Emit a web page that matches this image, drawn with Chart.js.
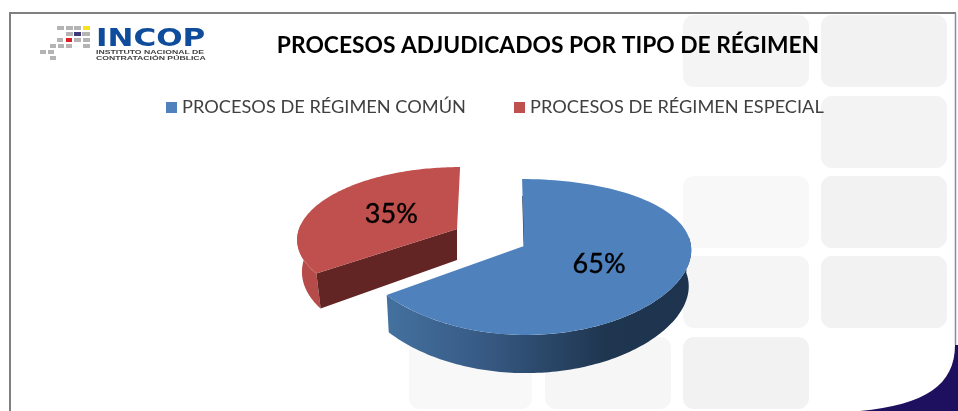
<!DOCTYPE html>
<html><head><meta charset="utf-8">
<style>html,body{margin:0;padding:0;background:#fff}canvas{display:block}</style>
<script src="https://cdn.jsdelivr.net/npm/chart.js@4"></script>
</head><body><div style="width:958px;height:411px"><canvas id="c" width="958" height="411"></canvas></div>
<script>
const categories = ["PROCESOS DE RÉGIMEN COMÚN", "PROCESOS DE RÉGIMEN ESPECIAL"];
const shareValues = [65, 35];
const chartTitle = "PROCESOS ADJUDICADOS POR TIPO DE RÉGIMEN";
const sliceColors = ["#4f81bd", "#c0504d"];

// projection of each slice's disc onto the page (perspective pie)
const views = [
  {cx:524, cy:246, R:167, a:76.4, b:.141, bx:.042, s:-.012, d0:36, d1:.06, sb:.985, label:.51},
  {cx:457, cy:229, R:158, a:70, b:.13, bx:.13, s:.022, d0:31, d1:.22, sb:.97, label:.47}
];
function project(v, ang, f, low){
  const u=Math.cos(ang)*f, w=Math.sin(ang)*f;
  let x=v.R*(u-v.s*w)/(1-v.bx*w), y=v.a*w/(1-v.b*w);
  if(low){x*=v.sb; y+=v.d0*(1+v.d1*w);}
  return [v.cx+x, v.cy+y];
}
function path(ctx, v, a0, a1, low, first){
  const n=120;
  for(let i=0;i<=n;i++){
    const p=project(v,a0+(a1-a0)*i/n,1,low);
    (i===0&&first)?ctx.moveTo(p[0],p[1]):ctx.lineTo(p[0],p[1]);
  }
}
const tiles = [
  [683,15,"#f4f4f4"],[821,15,"#f2f2f2"],[821,96,"#f3f3f3"],
  [683,176,"#f8f8f8"],[821,176,"#f2f2f2"],[683,256,"#f5f5f5"],[821,256,"#f2f2f2"],
  [409,337,"#f8f8f8"],[545,337,"#f6f6f6"],[683,337,"#f2f2f2"]
];
const logoGray = [[57,26,7],[66,26,7],[74,26,7],[66,32,7],[82,32,8],[57,38,6],[74,38,7],[83,38,7],
  [50,44,6],[58,44,6],[66,44,6],[83,44,7],[40,50,6],[48,50,6],[50,56,6]];

const backdrop = {
  id:"backdrop",
  beforeDraw(chart){
    const c=chart.ctx; c.save();
    c.fillStyle="#fff"; c.fillRect(0,0,958,411);
    for(const [x,y,col] of tiles){
      c.fillStyle=col; c.beginPath(); c.roundRect(x,y,x===409?123:126,72,11); c.fill();
    }
    // navy corner
    c.fillStyle="#1f0f5f"; c.beginPath();
    c.moveTo(958,345); c.lineTo(955,345); c.bezierCurveTo(955,385,925,405,860,411); c.lineTo(958,411); c.closePath(); c.fill();
    // frame
    c.strokeStyle="#808080"; c.lineWidth=2;
    c.beginPath(); c.moveTo(10,411); c.lineTo(10,13); c.lineTo(956,13); c.stroke();
    c.strokeStyle="#8a88a8"; c.lineWidth=1.5;
    c.beginPath(); c.moveTo(955.5,13); c.lineTo(955.5,345); c.stroke();
    // logo
    c.filter="blur(0.6px)";
    c.fillStyle="#b4b4b4"; for(const [x,y,w] of logoGray) c.fillRect(x,y,w,4);
    c.fillStyle="#f7e21b"; c.fillRect(83,26,7,4);
    c.fillStyle="#3c3a78"; c.fillRect(74,32,7,4);
    c.fillStyle="#d81f26"; c.fillRect(66,38,6,4);
    c.textBaseline="alphabetic"; c.textAlign="left";
    c.save(); c.translate(96,45.5); c.scale(1.24,1);
    c.fillStyle="#0f4c9c"; c.font="900 25px 'DejaVu Sans'";
    c.fillText("INCOP",0,0); c.restore();
    c.save(); c.translate(96,54); c.scale(1.4,1);
    c.fillStyle="#444"; c.font="bold 6.2px 'Liberation Sans'";
    c.fillText("INSTITUTO NACIONAL DE",0,0);
    c.fillText("CONTRATACIÓN PÚBLICA",0,6);
    c.restore();
    c.restore();
  }
};
const pie3d = {
  id:"pie3d",
  beforeDatasetDraw(chart,args){
    const c=chart.ctx, arcs=chart.getDatasetMeta(args.index).data;
    c.save(); c.lineJoin="round";
    // second slice (back-left) first, then the large one
    [1,0].forEach(i=>{
      const v=views[i], s=arcs[i].startAngle, e=arcs[i].endAngle;
      if(i===1){
        // outer wall
        c.fillStyle="#b64c49"; c.beginPath();
        const leftAng=Math.PI*1.02;
        path(c,v,s,leftAng,false,true); path(c,v,leftAng,s,true,false); c.closePath(); c.fill();
        // cut face
        c.fillStyle="#632523"; c.beginPath();
        let p=project(v,s,1,false); c.moveTo(p[0],p[1]);
        c.lineTo(v.cx,v.cy); c.lineTo(v.cx,v.cy+v.d0);
        p=project(v,s,1,true); c.lineTo(p[0],p[1]); c.closePath(); c.fill();
      } else {
        // outer wall with the horizontal shading
        const g=c.createLinearGradient(386,0,690,0);
        g.addColorStop(0,"#44719f"); g.addColorStop(.32,"#375a84"); g.addColorStop(.72,"#1f3650"); g.addColorStop(1,"#1e344e");
        c.fillStyle=g; c.beginPath();
        const from=-.12;
        path(c,v,from,e,false,true); path(c,v,e,from,true,false); c.closePath(); c.fill();
        // sliver of cut face at the top
        c.strokeStyle="#1e344e"; c.lineWidth=2; c.beginPath();
        const q=project(v,s,.72,false); c.moveTo(q[0]+.6,q[1]); c.lineTo(v.cx+.6,v.cy); c.stroke();
      }
      // top face
      c.fillStyle=sliceColors[i]; c.beginPath();
      c.moveTo(v.cx,v.cy); path(c,v,s,e,false,false); c.closePath(); c.fill();
    });
    // value labels
    c.fillStyle="#000"; c.strokeStyle="#000"; c.lineWidth=.4; c.textAlign="center"; c.textBaseline="middle"; c.font="27px Lato";
    arcs.forEach((arc,i)=>{
      const m=(arc.startAngle+arc.endAngle)/2, p=project(views[i],m,views[i].label,false);
      const t=shareValues[i]+"%";
      c.fillText(t,p[0]-2,p[1]); c.strokeText(t,p[0]-2,p[1]);
    });
    c.restore();
    return false;
  }
};
// legend swatch: the 11 px square sits in the right part of a 15 px image
function swatch(col){
  const k=document.createElement("canvas"); k.width=15; k.height=11;
  const x=k.getContext("2d"); x.fillStyle=col; x.fillRect(4,0,11,11);
  return k;
}
new Chart(document.getElementById("c"),{
  type:"pie",
  data:{labels:categories,datasets:[{data:shareValues,backgroundColor:sliceColors,borderWidth:0}]},
  plugins:[backdrop,pie3d],
  options:{
    responsive:false,animation:false,
    rotation:0,
    layout:{padding:{left:118,right:-20,top:0,bottom:30}},
    plugins:{
      tooltip:{enabled:false},
      title:{display:true,text:chartTitle,color:"#000",font:{family:"Lato",size:22.8,weight:"bold"},padding:{top:32,bottom:-9}},
      legend:{display:true,position:"top",align:"start",
        labels:{color:"#404040",font:{family:"Lato",size:18.2},usePointStyle:true,pointStyleWidth:7,boxHeight:11,padding:48,
          generateLabels(chart){
            return Chart.overrides.pie.plugins.legend.labels.generateLabels(chart)
              .map((it,i)=>({...it,pointStyle:swatch(sliceColors[i])}));
          }}}
    }
  }
});
</script></body></html>
